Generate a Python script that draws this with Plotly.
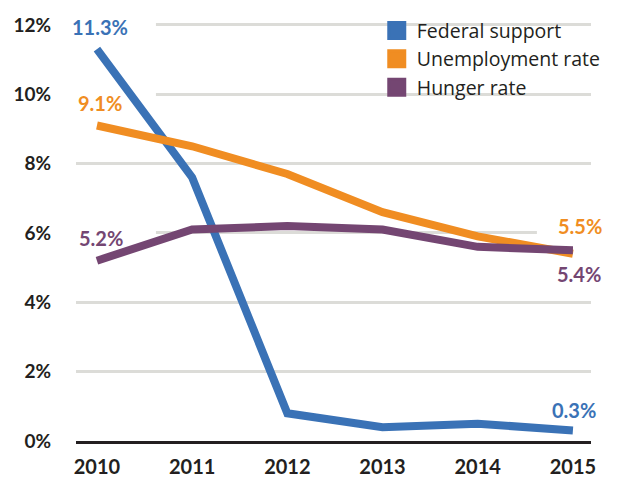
import plotly.graph_objects as go

# ---- data ----
years = [2010, 2011, 2012, 2013, 2014, 2015]
federal_support = [11.3, 7.6, 0.8, 0.4, 0.5, 0.3]
unemployment_rate = [9.1, 8.5, 7.7, 6.6, 5.9, 5.4]
hunger_rate = [5.2, 6.1, 6.2, 6.1, 5.6, 5.5]
series_names = ["Federal support", "Unemployment rate", "Hunger rate"]
y_tick_values = [0, 2, 4, 6, 8, 10, 12]
y_tick_labels = ["0%", "2%", "4%", "6%", "8%", "10%", "12%"]
x_tick_labels = ["2010", "2011", "2012", "2013", "2014", "2015"]
# value labels shown on the chart (series index, point index, text)
value_labels = [
    (0, 0, "11.3%"),
    (1, 0, "9.1%"),
    (2, 0, "5.2%"),
    (1, 5, "5.5%"),
    (2, 5, "5.4%"),
    (0, 5, "0.3%"),
]

# ---- styling ----
colors = ["#3a72b6", "#f08d22", "#744672"]
series_values = [federal_support, unemployment_rate, hunger_rate]
FONT = "Lato"
DARK = "#231f20"

# per-label placement styling: (xshift, yshift, mask box [x0, x1, y0, y1] in px rel. to point or None)
label_style = [
    (3, 22, (-27, 59, 9, 35)),
    (3, 22, (-27, 59, 9, 35)),
    (4, 23, (-27, 59, 10, 36)),
    (7, 28, (-36, 40, 17, 39)),
    (6, -24, None),
    (1, 21, None),
]

fig = go.Figure()

for name, vals, c in zip(series_names, series_values, colors):
    fig.add_trace(go.Scatter(
        x=years, y=vals, mode="lines", name=name, showlegend=False,
        line=dict(color=c, width=8), hoverinfo="skip",
    ))

for name, c in zip(series_names, colors):
    fig.add_trace(go.Scatter(
        x=[None], y=[None], mode="markers", name=name, showlegend=True,
        marker=dict(symbol="square", size=16, color=c, line=dict(color=c, width=3)),
    ))

for (si, pi, txt), (xs, ys, mask) in zip(value_labels, label_style):
    px, py = years[pi], series_values[si][pi]
    fig.add_annotation(
        x=px, y=py, xref="x", yref="y",
        text=txt, showarrow=False, xanchor="center", yanchor="middle",
        xshift=xs, yshift=ys,
        font=dict(family=FONT, size=20, color=colors[si], weight="bold"),
    )
    if mask is not None:
        # white patch between gridlines and traces so the label sits on clear space
        fig.add_shape(
            type="rect", layer="between",
            xref="x", yref="y", xsizemode="pixel", ysizemode="pixel",
            xanchor=px, yanchor=py,
            x0=mask[0], x1=mask[1], y0=mask[2], y1=mask[3],
            fillcolor="white", line=dict(width=0),
        )

fig.update_layout(
    width=623, height=477,
    margin=dict(l=76, r=32, t=10, b=36, autoexpand=False),
    paper_bgcolor="white", plot_bgcolor="white",
    showlegend=True,
    legend=dict(
        x=0.584, y=0.997, xanchor="left", yanchor="top",
        bgcolor="rgba(0,0,0,0)", borderwidth=0,
        font=dict(family="Open Sans", size=19.5, color=DARK),
        tracegroupgap=0, itemsizing="trace",
    ),
    font=dict(family=FONT, color=DARK),
)

fig.update_xaxes(
    range=[2009.78, 2015.19], automargin=False,
    tickmode="array", tickvals=years, ticktext=x_tick_labels,
    tickfont=dict(family=FONT, size=20, color=DARK, weight="bold"),
    showgrid=False, zeroline=False,
    showline=True, linecolor=DARK, linewidth=3,
    ticks="", ticklabelstandoff=6,
)
fig.update_yaxes(
    range=[0, 12.43], automargin=False,
    tickmode="array", tickvals=y_tick_values, ticktext=y_tick_labels,
    tickfont=dict(family=FONT, size=19, color=DARK, weight="bold"),
    showgrid=True, gridcolor="#dcdcd8", gridwidth=3,
    zeroline=False, showline=False,
    ticks="", ticklabelstandoff=24,
)

fig.write_html("out.html")
